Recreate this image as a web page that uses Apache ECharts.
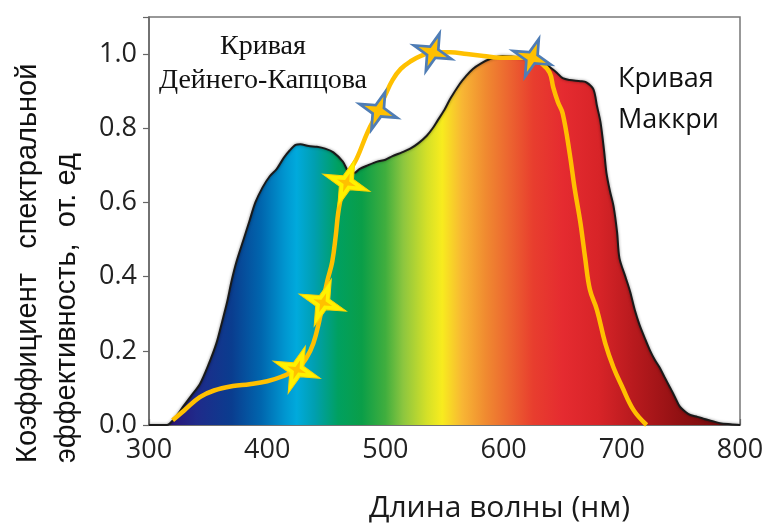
<!DOCTYPE html>
<html><head><meta charset="utf-8">
<script src="https://cdn.jsdelivr.net/npm/echarts@6/dist/echarts.min.js"></script>
<style>html,body{margin:0;padding:0;background:#fff}#c{width:770px;height:525px}</style>
</head><body><div id="c"></div>
<script>
// McCree curve (relative spectral efficiency)
const mcX = [300,315,322,329,336,343,350,357,362,366,370,374,380,385,390,396,402,408,414,419,424,428,435,442,449,456,464,470,474,478,485,493,500,506,514,521,528,535,540,544,550,555,563,568,574,581,588,599,608,616,625,633,639,645,650,656,665,670,676,679,682,685,687,690,693,696,698,703,707,711,715,720,724,728,732,736,741,745,749,754,758,764,769,776,783,792,800];
const mcY = [0,0,0.02,0.05,0.08,0.11,0.16,0.22,0.28,0.33,0.39,0.44,0.50,0.55,0.60,0.64,0.67,0.69,0.72,0.74,0.755,0.757,0.752,0.75,0.745,0.735,0.71,0.68,0.68,0.69,0.70,0.71,0.715,0.725,0.735,0.745,0.76,0.78,0.80,0.82,0.85,0.88,0.92,0.94,0.96,0.975,0.986,0.995,0.993,0.99,0.985,0.98,0.965,0.95,0.935,0.93,0.927,0.924,0.905,0.86,0.816,0.74,0.68,0.63,0.59,0.52,0.45,0.40,0.36,0.31,0.27,0.23,0.20,0.175,0.155,0.13,0.10,0.075,0.05,0.035,0.027,0.022,0.017,0.011,0.005,0.002,0];
// Daine-Kaptsova curve
const dkX = [320,330,343,355,371,385,400,412,425,433,439,444,447,451,455,458,460,463,467,471,476,485,494,500,506,513,521,530,540,555,569,583,597,610,624,632,639,642,646,650,656,660,665,669,673,679,686,693,700,710,721];
const dkY = [0.013,0.04,0.075,0.093,0.105,0.11,0.118,0.13,0.15,0.18,0.22,0.28,0.33,0.39,0.44,0.51,0.57,0.62,0.653,0.69,0.72,0.79,0.847,0.89,0.93,0.96,0.98,0.995,1.005,1.005,1.0,0.995,0.99,0.99,0.99,0.975,0.95,0.91,0.87,0.84,0.73,0.64,0.545,0.45,0.365,0.31,0.22,0.155,0.105,0.04,0];
// star markers on the Daine-Kaptsova curve
const yellowStarX = [425,447,467];
const yellowStarY = [0.149,0.33,0.653];
const blueStarX = [494,540,624];
const blueStarY = [0.847,1.005,0.99];
// axis ticks
const xTicks = [300,400,500,600,700,800];
const yTicks = [0.0,0.2,0.4,0.6,0.8,1.0];

const zip = (a,b) => a.map((v,i)=>[v,b[i]]);
const x0 = xTicks[0], x1 = xTicks[xTicks.length-1];
const stopsNm = [[315,'#2b1075'],[340,'#1f2a8a'],[370,'#0a3d8f'],[395,'#0066ae'],[415,'#0096d0'],[425,'#00aadc'],[440,'#009fb0'],[460,'#00a060'],[480,'#0a9e48'],[500,'#40ae3e'],[515,'#8cc63f'],[535,'#d4e028'],[548,'#f8ec1e'],[565,'#f8b634'],[585,'#f08a30'],[605,'#ec6430'],[625,'#e83e2e'],[650,'#e52b30'],[680,'#d82428'],[710,'#b81a1e'],[750,'#901012'],[800,'#6a0a0a']];
const grad = new echarts.graphic.LinearGradient(0,0,1,0, stopsNm.map(s=>({offset:(s[0]-x0)/(x1-x0), color:s[1]})));
const starPath = 'path://M50,0L61,39L100,50L61,61L50,100L39,61L0,50L39,39Z';

const chart = echarts.init(document.getElementById('c'), null, {renderer:'canvas'});
chart.setOption({
  animation:false,
  backgroundColor:'#fff',
  grid:{left:149,right:30,top:17,bottom:100,show:true,borderColor:'#777',borderWidth:1.5,containLabel:false,outerBoundsMode:'none'},
  xAxis:{type:'value',min:x0,max:x1,interval:100,
    axisLine:{lineStyle:{color:'#666',width:1.5}},
    axisTick:{inside:true,length:6,lineStyle:{color:'#666',width:1.2}},
    splitLine:{show:false},
    axisLabel:{fontFamily:'Open Sans',fontSize:27,color:'#222',margin:12},
    name:'Длина волны (нм)',nameLocation:'middle',nameGap:68,
    nameTextStyle:{fontFamily:'Open Sans',fontSize:30,color:'#1a1a1a',padding:[0,0,0,110]}
  },
  yAxis:{type:'value',min:0,max:1.1,interval:0.2,
    axisLine:{show:true,lineStyle:{color:'#666',width:1.5}},
    axisTick:{show:true,length:6,lineStyle:{color:'#666',width:1.2}},
    splitLine:{show:false},
    axisLabel:{fontFamily:'Open Sans',fontSize:27,color:'#222',margin:12,
      formatter:v=> (yTicks.some(t=>Math.abs(t-v)<1e-6) ? v.toFixed(1) : '')}
  },
  graphic:[
    {type:'text',x:47,y:463,rotation:Math.PI/2,z:10,
      style:{text:'Коэффициент   спектральной\nэффективность,  от. ед',fontFamily:'Liberation Sans',fontSize:29,lineHeight:39,fill:'#111',textAlign:'left',textVerticalAlign:'middle'}},
    {type:'text',x:263,y:30,z:10,
      style:{text:'Кривая\nДейнего-Капцова',fontFamily:'Liberation Serif',fontSize:28,lineHeight:34,fill:'#111',textAlign:'center',textVerticalAlign:'top'}},
    {type:'text',x:618,y:59,z:10,
      style:{text:'Кривая\nМаккри',fontFamily:'Open Sans',fontSize:27,lineHeight:41,fill:'#111',textAlign:'left',textVerticalAlign:'top'}}
  ],
  series:[
    {name:'Кривая Маккри',type:'line',data:zip(mcX,mcY),symbol:'none',smooth:0.3,z:1,
      lineStyle:{color:'#1a1a1a',width:2,shadowColor:'rgba(0,0,0,0.45)',shadowBlur:3},
      areaStyle:{color:grad,opacity:1}},
    {name:'Кривая Дейнего-Капцова',type:'line',data:zip(dkX,dkY),symbol:'none',smooth:0.4,z:3,
      lineStyle:{color:'#ffc000',width:4.5}},
    {name:'blueStars',type:'scatter',data:zip(blueStarX,blueStarY),symbol:starPath,symbolSize:50,symbolRotate:-20,z:4,
      itemStyle:{color:'#4f7db5',opacity:1}},
    {name:'blueStarsInner',type:'scatter',data:zip(blueStarX,blueStarY),symbol:starPath,symbolSize:30,symbolRotate:-20,z:5,
      itemStyle:{color:'#ffc000',opacity:1}},
    {name:'yellowStars',type:'scatter',data:zip(yellowStarX,yellowStarY),symbol:starPath,symbolSize:50,symbolRotate:-20,z:4,
      itemStyle:{color:'#fff200',borderColor:'#ffd400',borderWidth:1,opacity:1}},
    {name:'yellowStarsInner',type:'scatter',data:zip(yellowStarX,yellowStarY),symbol:starPath,symbolSize:20,symbolRotate:-20,z:5,
      itemStyle:{color:'#ffc000',opacity:1}}
  ]
});
</script>
</body></html>
